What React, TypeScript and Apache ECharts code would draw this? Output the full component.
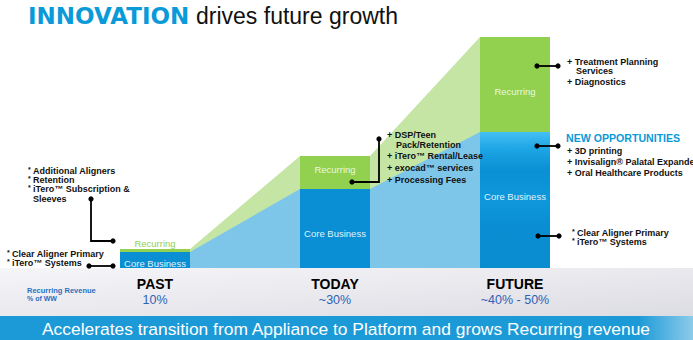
import React, { useEffect, useRef } from "react";
import * as echarts from "echarts";

// ---- data ----
const CATEGORIES = ["PAST", "TODAY", "FUTURE"];
const SHARE_LABELS = ["10%", "~30%", "~40% - 50%"];
const CORE = [16, 79, 136];
const RECURRING = [3, 33, 95];
const CORE_LABEL_OFFSETS = [3, 5, -4];
const REC_LABEL_OFFSETS = [0, -3, 7];

const FONT = '"Liberation Sans", Arial, sans-serif';
const BAR_W = 70;
const GRID_LEFT = 65;
const GRID_W = 540;
const GRID_TOP = 28;
const GRID_BOTTOM = 72;
const Y_MAX = 240;

const CORE_BLUE = "#0a8fd4";
const REC_GREEN = "#92d050";
const AREA_GREEN = "#c5e5a4";
const AREA_BLUE = "#7dc6ea";

function App() {
  const ref = useRef<HTMLDivElement>(null);

  useEffect(() => {
    if (!ref.current) return;
    const chart = echarts.init(ref.current, undefined, { renderer: "svg" });

    const half = BAR_W / 2 / (GRID_W / CATEGORIES.length);
    const totals = CORE.map((c, i) => c + RECURRING[i]);
    const bridge = (vals: number[]) => {
      const pts: number[][] = [];
      for (let i = 0; i < vals.length - 1; i++) {
        pts.push([i + half, vals[i]]);
        pts.push([i + 1 - half, vals[i + 1]]);
      }
      return pts;
    };

    const txt = (text: string, x: number, y: number, opts: any = {}) => ({
      type: "text",
      x,
      y,
      z: 100,
      style: {
        text,
        fill: opts.fill || "#111",
        font: opts.font || `bold 9px ${FONT}`,
        align: opts.align || "left",
        verticalAlign: "middle",
      },
    });
    const star = (x: number, y: number) => txt("*", x, y - 1.5, { font: `bold 7px ${FONT}` });
    const dot = (cx: number, cy: number) => ({
      type: "circle",
      z: 100,
      shape: { cx, cy, r: 2.6 },
      style: { fill: "#000" },
    });
    const pl = (points: number[][]) => ({
      type: "polyline",
      z: 100,
      shape: { points },
      style: { stroke: "#000", lineWidth: 1.8, fill: null },
    });

    const futureGradient = new echarts.graphic.LinearGradient(0, 0, 0, 1, [
      { offset: 0, color: "#45bff4" },
      { offset: 0.12, color: "#1ea6e5" },
      { offset: 0.28, color: "#0a8fd4" },
      { offset: 0.5, color: "#0e98db" },
      { offset: 0.7, color: "#0a8dd2" },
      { offset: 1, color: "#0a8cd0" },
    ]);

    const option: any = {
      animation: false,
      backgroundColor: "#ffffff",
      grid: {
        left: GRID_LEFT,
        width: GRID_W,
        top: GRID_TOP,
        bottom: GRID_BOTTOM,
      },
      xAxis: [
        {
          type: "category",
          data: CATEGORIES,
          z: 5,
          axisLine: { show: false },
          axisTick: { show: false },
          splitLine: { show: false },
          axisLabel: {
            margin: 8,
            interval: 0,
            formatter: (v: string, i: number) => `{p|${v}}\n{q|${SHARE_LABELS[i]}}`,
            rich: {
              p: {
                fontFamily: FONT,
                fontWeight: "bold",
                fontSize: 14,
                color: "#000",
                lineHeight: 16,
              },
              q: {
                fontFamily: FONT,
                fontSize: 12.5,
                color: "#2f62b3",
                lineHeight: 16,
              },
            },
          },
        },
        {
          type: "value",
          min: -0.5,
          max: CATEGORIES.length - 0.5,
          show: false,
        },
      ],
      yAxis: {
        type: "value",
        min: 0,
        max: Y_MAX,
        show: false,
      },
      series: [
        {
          type: "line",
          name: "Recurring bridge",
          xAxisIndex: 1,
          data: bridge(totals),
          showSymbol: false,
          symbol: "none",
          lineStyle: { width: 0 },
          areaStyle: { color: AREA_GREEN, opacity: 1 },
          z: 1,
        },
        {
          type: "line",
          name: "Core bridge",
          xAxisIndex: 1,
          data: bridge(CORE),
          showSymbol: false,
          symbol: "none",
          lineStyle: { width: 0 },
          areaStyle: { color: AREA_BLUE, opacity: 1 },
          z: 1,
        },
        {
          type: "bar",
          name: "Core Business",
          stack: "total",
          barWidth: BAR_W,
          z: 2,
          data: CORE.map((v, i) => ({
            value: v,
            itemStyle: { color: i === CORE.length - 1 ? futureGradient : CORE_BLUE },
            label: { offset: [0, CORE_LABEL_OFFSETS[i]] },
          })),
          label: {
            show: true,
            position: "inside",
            formatter: "Core Business",
            color: "rgba(255,255,255,0.9)",
            fontFamily: FONT,
            fontSize: 9.5,
          },
        },
        {
          type: "bar",
          name: "Recurring",
          stack: "total",
          barWidth: BAR_W,
          z: 2,
          data: RECURRING.map((v, i) => ({
            value: v,
            itemStyle: { color: REC_GREEN },
            label:
              i === 0
                ? { position: "top", distance: 1, color: REC_GREEN }
                : { offset: [0, REC_LABEL_OFFSETS[i]] },
          })),
          label: {
            show: true,
            position: "inside",
            formatter: "Recurring",
            color: "rgba(245,252,238,0.92)",
            fontFamily: FONT,
            fontSize: 9.5,
          },
        },
      ],
      graphic: [
        {
          type: "rect",
          z: -1,
          shape: { x: 0, y: 268, width: 693, height: 48 },
          style: {
            fill: new echarts.graphic.LinearGradient(0, 0, 1, 1, [
              { offset: 0, color: "#f6f6f9" },
              { offset: 1, color: "#dcdce3" },
            ]),
          },
        },
        {
          type: "rect",
          z: -1,
          shape: { x: 0, y: 316, width: 693, height: 24 },
          style: {
            fill: new echarts.graphic.LinearGradient(0, 0, 1, 0, [
              { offset: 0, color: "#1b9ad7" },
              { offset: 0.92, color: "#1b9ad7" },
              { offset: 1, color: "#8ccbeb" },
            ]),
          },
        },
        txt("Accelerates transition from Appliance to Platform and grows Recurring revenue", 346, 329, {
          font: `17.4px ${FONT}`,
          fill: "#ffffff",
          align: "center",
        }),
        // title
        txt("INNOVATION", 28, 16, { font: 'bold 23px "DejaVu Sans"', fill: "#0a9ad8" }),
        txt("drives future growth", 196, 16, { font: `23px ${FONT}`, fill: "#111" }),
        // recurring revenue caption
        txt("Recurring Revenue", 27, 290, { font: `bold 7.5px ${FONT}`, fill: "#2a6fc0" }),
        txt("% of WW", 27, 298, { font: `bold 7px ${FONT}`, fill: "#2a6fc0" }),
        // left annotations
        star(28, 171),
        txt("Additional Aligners", 33, 171),
        star(28, 180),
        txt("Retention", 33, 180),
        star(28, 189),
        txt("iTero™ Subscription &", 33, 189),
        txt("Sleeves", 33, 199),
        pl([[91, 199], [91, 241], [113, 241]]),
        dot(91, 199),
        dot(113, 241),
        star(7, 254),
        txt("Clear Aligner Primary", 12, 254),
        star(7, 263),
        txt("iTero™ Systems", 12, 263),
        pl([[89, 266], [113, 266]]),
        dot(89, 266),
        dot(113, 266),
        // today annotations
        txt("+ DSP/Teen", 387, 135),
        txt("Pack/Retention", 396, 145),
        txt("+ iTero™ Rental/Lease", 387, 156),
        txt("+ exocad™ services", 387, 168),
        txt("+ Processing Fees", 387, 180),
        pl([[352, 182], [379, 182], [379, 139]]),
        dot(352, 182),
        dot(379, 139),
        // future annotations
        txt("+ Treatment Planning", 567, 62),
        txt("Services", 576, 71),
        txt("+ Diagnostics", 567, 82),
        pl([[537, 66], [558, 66]]),
        dot(537, 66),
        dot(558, 66),
        txt("NEW OPPORTUNITIES", 566, 138, { font: `bold 10.6px ${FONT}`, fill: "#0a9ad8" }),
        txt("+ 3D printing", 567, 151),
        txt("+ Invisalign® Palatal Expander", 567, 162),
        txt("+ Oral Healthcare Products", 567, 173),
        pl([[537, 146], [558, 146]]),
        dot(537, 146),
        dot(558, 146),
        star(572, 233),
        txt("Clear Aligner Primary", 577, 233),
        star(572, 242),
        txt("iTero™ Systems", 577, 242),
        pl([[538, 236], [559, 236]]),
        dot(538, 236),
        dot(559, 236),
      ],
    };

    chart.setOption(option);
    return () => chart.dispose();
  }, []);

  return (
    <div
      ref={ref}
      style={{ position: "absolute", left: 0, top: 0, width: 693, height: 340 }}
    />
  );
}

export default App;
